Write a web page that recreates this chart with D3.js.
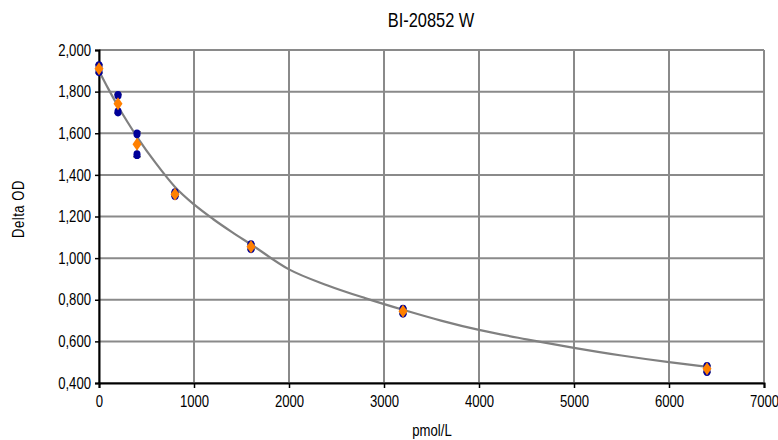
<!DOCTYPE html>
<html>
<head>
<meta charset="utf-8">
<script src="https://cdn.jsdelivr.net/npm/d3@7/dist/d3.min.js"></script>
<style>
	body { margin: 0; background: #fff; }
	text { font-family: "Liberation Sans", Arial, sans-serif; fill: #000; }
</style>
</head>
<body>
<div id="vis"></div>
<script>

var title = "BI-20852 W";
var xLabel = "pmol/L";
var yLabel = "Delta OD";

// concentrations of the standards
var conc = [0, 200, 400, 800, 1600, 3200, 6400];
// replicate readings (blue dots)
var rep1 = [1.925, 1.782, 1.597, 1.315, 1.065, 0.755, 0.480];
var rep2 = [1.895, 1.702, 1.497, 1.300, 1.045, 0.735, 0.455];
// means (orange diamonds) and their spread
var means = [1.910, 1.742, 1.547, 1.307, 1.055, 0.745, 0.468];
var sd = [0.020, 0.045, 0.060, 0.010, 0.014, 0.014, 0.016];

// fitted curve
var fitX = [0, 100, 200, 300, 400, 600, 800, 1000, 1200, 1400, 1600, 2000, 2400, 2800, 3200, 3600, 4000, 4500, 5000, 5500, 6000, 6400];
var fitY = [1.900, 1.812, 1.730, 1.654, 1.583, 1.455, 1.342, 1.258, 1.188, 1.125, 1.066, 0.946, 0.870, 0.808, 0.752, 0.700, 0.655, 0.610, 0.569, 0.532, 0.500, 0.478];

var xTicks = [0, 1000, 2000, 3000, 4000, 5000, 6000, 7000];
var yTicks = [0.4, 0.6, 0.8, 1.0, 1.2, 1.4, 1.6, 1.8, 2.0];

var w = 778, h = 440;
var pad = { left: 99, right: 764, top: 50, bottom: 383 };

var gridColour = "#8a8a8a";
// no narrow font installed, so squeeze the regular one
var squeeze = 0.82;

var locale = d3.formatLocale({ decimal: ",", thousands: ".", grouping: [3], currency: ["", ""] });
var yFormat = locale.format(".3f");

var svg = d3.select("#vis").append("svg")
.attr("width", w)
.attr("height", h);

var x = d3.scaleLinear()
.domain([0, 7000])
.range([pad.left, pad.right]);

var y = d3.scaleLinear()
.domain([0.4, 2.0])
.range([pad.bottom, pad.top]);

function narrowText (sel, size, px, py) {
	sel
	.style("font-size", size + "px")
	.attr("transform", "translate(" + px + "," + py + ") scale(" + squeeze + ",1)");
}

// grid lines
svg.append("g")
.selectAll("line")
.data(yTicks)
.enter()
.append("line")
.attr("x1", pad.left)
.attr("x2", pad.right)
.attr("y1", function (d) { return y(d); })
.attr("y2", function (d) { return y(d); })
.attr("stroke", gridColour)
.attr("stroke-width", 2);

svg.append("g")
.selectAll("line")
.data(xTicks)
.enter()
.append("line")
.attr("x1", function (d) { return x(d); })
.attr("x2", function (d) { return x(d); })
.attr("y1", pad.top)
.attr("y2", pad.bottom)
.attr("stroke", gridColour)
.attr("stroke-width", 2);

// axes
var xAxis = svg.append("g")
.attr("transform", "translate(0," + pad.bottom + ")")
.call(d3.axisBottom(x).tickValues(xTicks).tickFormat(d3.format("d")).tickSizeOuter(0).tickSize(5).tickPadding(8));

var yAxis = svg.append("g")
.attr("transform", "translate(" + pad.left + ",0)")
.call(d3.axisLeft(y).tickValues(yTicks).tickFormat(yFormat).tickSizeOuter(0).tickSize(4).tickPadding(4));

[xAxis, yAxis].forEach(function (a) {
	a.attr("font-family", null).attr("font-size", null);
	a.select(".domain").attr("stroke", "#000").attr("stroke-width", 2);
	a.selectAll(".tick line").attr("stroke", "#000").attr("stroke-width", 1.5);
});

xAxis.selectAll(".tick text")
.attr("fill", "#000")
.attr("y", 0)
.attr("dy", "0.71em")
.each(function () { narrowText(d3.select(this), 16, 0, 13); });

yAxis.selectAll(".tick text")
.attr("fill", "#000")
.attr("x", 0)
.each(function () { narrowText(d3.select(this), 16, -8, 0); });

// fitted curve
var line = d3.line()
.x(function (d) { return x(d[0]); })
.y(function (d) { return y(d[1]); })
.curve(d3.curveMonotoneX);

svg.append("path")
.datum(d3.zip(fitX, fitY))
.attr("d", line)
.attr("fill", "none")
.attr("stroke", "#808080")
.attr("stroke-width", 2.2);

// error bars
var bars = svg.append("g")
.selectAll("g")
.data(d3.range(conc.length))
.enter()
.append("g")
.attr("stroke", "#808080")
.attr("stroke-width", 1.5);

bars.append("line")
.attr("x1", function (i) { return x(conc[i]); })
.attr("x2", function (i) { return x(conc[i]); })
.attr("y1", function (i) { return y(means[i] + sd[i]); })
.attr("y2", function (i) { return y(means[i] - sd[i]); });

bars.selectAll(".cap")
.data(function (i) { return [means[i] + sd[i], means[i] - sd[i]].map(function (v) { return [conc[i], v]; }); })
.enter()
.append("line")
.attr("class", "cap")
.attr("x1", function (d) { return x(d[0]) - 4; })
.attr("x2", function (d) { return x(d[0]) + 4; })
.attr("y1", function (d) { return y(d[1]); })
.attr("y2", function (d) { return y(d[1]); });

// replicate dots
svg.append("g")
.selectAll("ellipse")
.data(d3.zip(conc, rep1).concat(d3.zip(conc, rep2)))
.enter()
.append("ellipse")
.attr("cx", function (d) { return x(d[0]); })
.attr("cy", function (d) { return y(d[1]); })
.attr("rx", 3.6)
.attr("ry", 4.4)
.attr("fill", "#000099");

// mean diamonds
svg.append("g")
.selectAll("path")
.data(d3.zip(conc, means))
.enter()
.append("path")
.attr("transform", function (d) { return "translate(" + x(d[0]) + "," + y(d[1]) + ")"; })
.attr("d", "M0,-6.5L4.5,0L0,6.5L-4.5,0Z")
.attr("fill", "#ff8000");

// titles
svg.append("text")
.attr("text-anchor", "middle")
.text(title)
.call(narrowText, 20, 431, 27);

svg.append("text")
.attr("text-anchor", "middle")
.text(xLabel)
.call(narrowText, 16, 432, 436);

svg.append("text")
.attr("text-anchor", "middle")
.style("font-size", "16px")
.style("letter-spacing", "0.6px")
.attr("transform", "translate(24,209) rotate(-90) scale(" + squeeze + ",1)")
.text(yLabel);

</script>
</body>
</html>
